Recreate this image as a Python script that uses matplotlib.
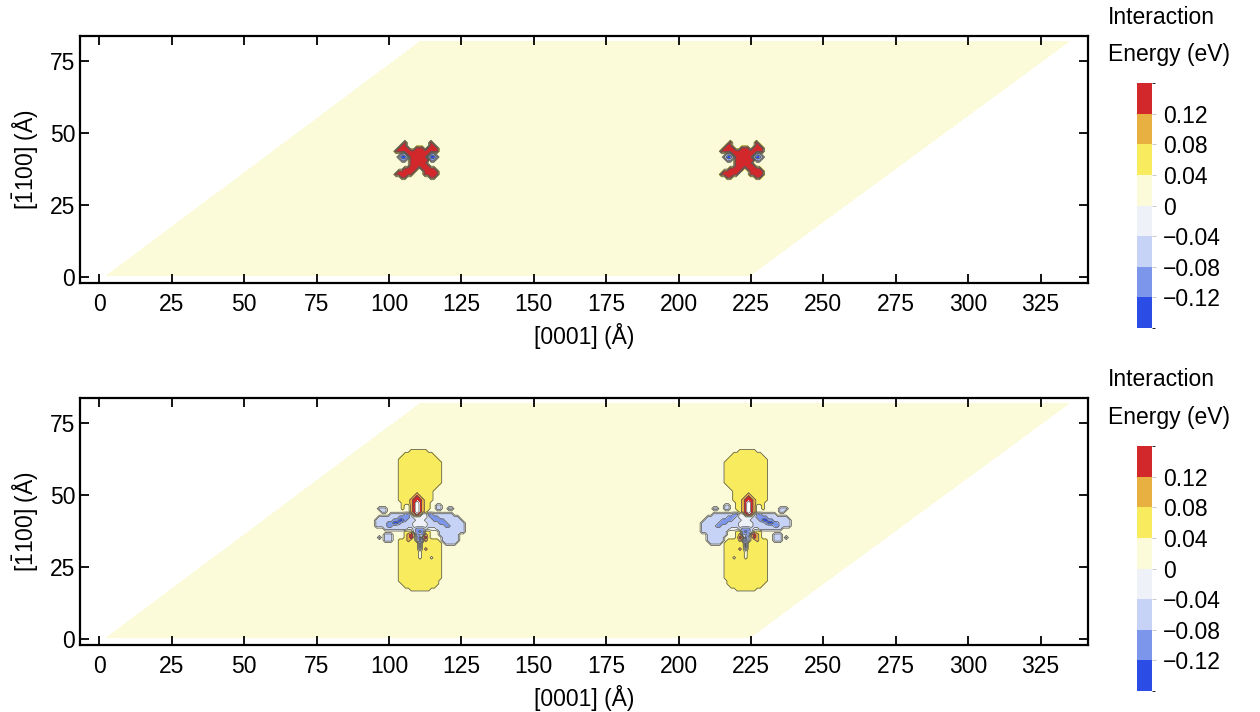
import numpy as np
import matplotlib
matplotlib.use("Agg")
import matplotlib.pyplot as plt
from matplotlib.colors import ListedColormap, BoundaryNorm
import matplotlib.cm as cm

plt.rcParams['font.family'] = ['Liberation Sans', 'DejaVu Sans']
plt.rcParams['mathtext.fontset'] = 'custom'
plt.rcParams['mathtext.rm'] = 'Liberation Sans'
plt.rcParams['mathtext.it'] = 'Liberation Sans:italic'
plt.rcParams['mathtext.bf'] = 'Liberation Sans:bold'
plt.rcParams['contour.negative_linestyle'] = 'solid'

# ---- contour bands (eV) and their colours ----
LEVELS = [-0.16, -0.12, -0.08, -0.04, 0.0, 0.04, 0.08, 0.12, 0.16]
BAND_COLORS = ['#2b4de6', '#7b96eb', '#c6d3f6', '#eef2f8',
               '#fbfbd9', '#f8ec5e', '#e8b040', '#d2282b']
CBAR_TICKS = [-0.12, -0.08, -0.04, 0.0, 0.04, 0.08, 0.12]
CBAR_LABELS = ['\u22120.12', '\u22120.08', '\u22120.04', '0', '0.04', '0.08', '0.12']
X_TICKS = list(range(0, 326, 25))
Y_TICKS = [0, 25, 50, 75]

# energy assigned to each symbol of the local energy maps (eV)
ENERGY_CODE = {'.': 0.02, 'w': -0.02, 'b': -0.06, 'm': -0.10, 'B': -0.14,
               'y': 0.06, 'o': 0.10, 'r': 0.14, 'W': 0.20}

# simulation cell (parallelogram) corners, in Angstrom
DOMAIN_X = [[2.8, 224.7], [110.7, 334.6]]
DOMAIN_Y = [[0.7, 0.7], [81.5, 81.5]]
BACKGROUND_ENERGY = 0.02

# defect positions
TOP_CENTERS_X = [110.5, 222.9]
TOP_CENTER_Y = 40.6
TOP_MIRROR = [False, False]
BOTTOM_CENTERS_X = [110.7, 223.2]
BOTTOM_CENTER_Y = 42.2
BOTTOM_MIRROR = [False, True]

# local energy maps on a 1 A grid; first row is the highest y offset
TOP_MAP_Y0 = 8
TOP_MAP = [
    "...................",
    "...................",
    "....r........r.....",
    "...rr........rr....",
    "..rrrr..rrr.rrrr...",
    ".rrrrrrrrrrrrrrr...",
    "...mmrrrrrrrrmm....",
    "..mBBmrrrrrrmBBm...",
    "...mm.rrrrrrrmm....",
    "......rrrrrr.......",
    "......rrrrrrr......",
    "....rrrrr.rrrrr....",
    "..rrrrrr...rrrrr...",
    ".rrrrrr....rrrrr...",
    "...rr........rr....",
    "...................",
    "...................",
]

BOTTOM_MAP_Y0 = 24
BOTTOM_MAP = [
    ".................................",  # 24
    ".............yyyyyy..............",  # 23
    "...........yyyyyyyyyy............",  # 22
    "..........yyyyyyyyyyyy...........",  # 21
    ".........yyyyyyyyyyyyyy..........",  # 20
    ".........yyyyyyyyyyyyyyy.........",  # 19
    ".........yyyyyyyyyyyyyyy.........",  # 18
    ".........yyyyyyyyyyyyyyy.........",  # 17
    ".........yyyyyyyyyyyyyyy.........",  # 16
    ".........yyyyyyyyyyyyyyy.........",  # 15
    ".........yyyyyyyyyyyyyyy.........",  # 14
    ".........yyyyyyyyyyyyyyy.........",  # 13
    ".........yyyyyyyyyyyyyyy.........",  # 12
    ".........yyyyyyyyyyyyyy..........",  # 11
    ".........yyyyyyyyyyyyy...........",  # 10
    ".........yyyyyyyyyyyy............",  # 9
    ".........yyyyyyoyyyyy............",  # 8
    ".........yyyyyoroyyyy............",  # 7
    ".........yyyyorrroyyy............",  # 6
    "..........yyyorWroyy.............",  # 5
    "..........y..orWroyy..bb.........",  # 4
    "..bbb.....y..orWroyy..bb..bb.....",  # 3
    "...bb........orWroy..............",  # 2
    "......bbbbbmmworowwmmbbbbbbb.....",  # 1
    "..bbbbbbbmmmmbwwwwwbmmmbbbbbbb...",  # 0
    ".bbbbbbmmBBmbbbwwwbbbmmmmbbbbbb..",  # -1
    ".bbbbmmBBmbbbbwwwwwbbbbmmmbbbbbb.",  # -2
    ".bbbbmmbbbbbbbwwwwwbbbbbbmmbbbbb.",  # -3
    "....bbbbbbbbwwbmmmbwwwbbbbbbbbbb.",  # -4
    "...........yyybmBmyy...bbbbbbbbb.",  # -5
    "....bbb....yorombmoy...bbbbbbb...",  # -6
    "..b.bbb....yorybBory....bbbbbb...",  # -7
    "....bbb..yyyoyybBboyyyy.bbbbbb...",  # -8
    ".........yyyyyyymyyyyyyy.bbbb....",  # -9
    ".........yyyyyyymyyyyyyy.........",  # -10
    ".........yyyyyyybyoyyyyy.........",  # -11
    ".........yyyyyyy.yyyyyyy.........",  # -12
    ".........yyyyyyy.yyyyyyy.........",  # -13
    ".........yyyyyyy.yyy.yyy.........",  # -14
    ".........yyyyyyyyyyyyyyy.........",  # -15
    ".........yyyyyyyyyyyyyyy.........",  # -16
    ".........yyyyyyyyyyyyyyy.........",  # -17
    ".........yyyyyyyyyyyyyyy.........",  # -18
    ".........yyyyyyyyyyyyyyy.........",  # -19
    ".........yyyyyyyyyyyyyyy.........",  # -20
    ".........yyyyyyyyyyyyyyy.........",  # -21
    ".........yyyyyyyyyyyyyy..........",  # -22
    "..........yyyyyyyyyyyyy..........",  # -23
    "...........yyyyyyyyyyy...........",  # -24
    ".............yyyyyyy.............",  # -25
    ".................................",  # -26
    ".................................",  # -27
]


def decode(rows):
    return np.array([[ENERGY_CODE[c] for c in row] for row in rows])


band_cmap = ListedColormap(BAND_COLORS)
fill_cmap = ListedColormap(BAND_COLORS)
fill_cmap.set_over('white')
fill_cmap.set_under('white')

fig = plt.figure(figsize=(12.6, 7.12), dpi=100)

AX_LEFT, AX_W, AX_H = 0.0635, 0.8, 0.3469
CB_LEFT, CB_W, CB_H = 0.9024, 0.0119, 0.344
panels = [
    dict(ax_bottom=0.6025, cb_bottom=0.5393, rows=TOP_MAP, y0=TOP_MAP_Y0,
         cx=TOP_CENTERS_X, cy=TOP_CENTER_Y, mirror=TOP_MIRROR, title_y=(0.976, 0.923)),
    dict(ax_bottom=0.0941, cb_bottom=0.0295, rows=BOTTOM_MAP, y0=BOTTOM_MAP_Y0,
         cx=BOTTOM_CENTERS_X, cy=BOTTOM_CENTER_Y, mirror=BOTTOM_MIRROR, title_y=(0.467, 0.414)),
]

FS = 16.5
for p in panels:
    ax = fig.add_axes([AX_LEFT, p['ax_bottom'], AX_W, AX_H])

    # uniform background over the simulation cell
    base = np.full((2, 2), BACKGROUND_ENERGY)
    ax.contourf(DOMAIN_X, DOMAIN_Y, base, levels=LEVELS, cmap=fill_cmap,
                vmin=LEVELS[0], vmax=LEVELS[-1], extend='both')

    field = decode(p['rows'])
    nr, nc = field.shape
    dx = np.arange(nc) - nc // 2
    dy = p['y0'] - np.arange(nr)
    for cx, mirror in zip(p['cx'], p['mirror']):
        z = field[:, ::-1] if mirror else field
        X, Y = np.meshgrid(cx + dx, p['cy'] + dy)
        ax.contourf(X, Y, z, levels=LEVELS, cmap=fill_cmap,
                    vmin=LEVELS[0], vmax=LEVELS[-1], extend='both')
        ax.contour(X, Y, z, levels=LEVELS, colors='#585858', linewidths=0.55)

    ax.set_xlim(-6.7, 341.4)
    ax.set_ylim(-2.0, 83.5)
    ax.set_xticks(X_TICKS)
    ax.set_yticks(Y_TICKS)
    ax.tick_params(direction='in', length=6.5, width=1.3, top=True, right=True,
                   labelsize=FS)
    ax.tick_params(axis='x', pad=7)
    ax.tick_params(axis='y', pad=3.5)
    for s in ax.spines.values():
        s.set_linewidth(1.6)
    ax.set_xlabel('[0001] (\u00c5)', fontsize=FS, labelpad=5)
    ax.set_ylabel('$[\\bar{1}100]$ (\u00c5)', fontsize=FS, labelpad=6)

    cax = fig.add_axes([CB_LEFT, p['cb_bottom'], CB_W, CB_H])
    sm = cm.ScalarMappable(norm=BoundaryNorm(LEVELS, band_cmap.N), cmap=band_cmap)
    cb = fig.colorbar(sm, cax=cax, ticks=CBAR_TICKS)
    cb.ax.set_yticklabels(CBAR_LABELS)
    cb.outline.set_visible(False)
    cb.ax.tick_params(length=3, width=0.6, color='#c0c0c0', labelsize=FS, pad=5)

    fig.text(0.8795, p['title_y'][0], 'Interaction', fontsize=FS, va='center', ha='left')
    fig.text(0.8795, p['title_y'][1], 'Energy (eV)', fontsize=FS, va='center', ha='left')

fig.savefig('out.png', dpi=100)
